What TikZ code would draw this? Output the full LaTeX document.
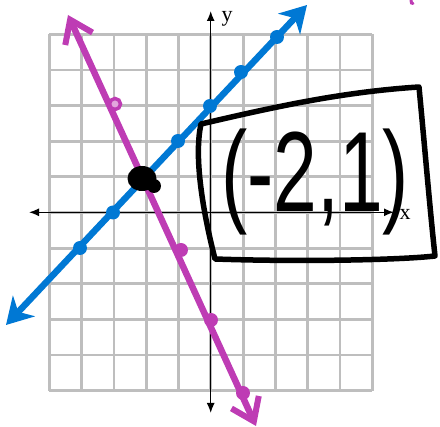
\documentclass[tikz,border=0pt]{standalone}
\usepackage{fontspec}
\usepackage{graphicx}
\setmainfont{Liberation Serif}
\newfontfamily\handfont{Liberation Sans}
\usetikzlibrary{arrows.meta}
\definecolor{gridgray}{RGB}{190,190,190}
\definecolor{penblue}{RGB}{0,120,212}
\definecolor{penmag}{RGB}{190,60,180}
\begin{document}
\begin{tikzpicture}[x=1pt,y=-1pt,
  gridline/.style={gridgray, line width=2.8pt},
  axisline/.style={black, line width=1.5pt, {Latex[length=10pt,width=8pt]}-{Latex[length=10pt,width=8pt]}},
  axislabel/.style={font=\fontsize{22}{22}\selectfont, inner sep=0pt},
  blueline/.style={penblue, line width=6.5pt, {Stealth[length=26pt,width=30pt,inset=8pt]}-{Stealth[length=26pt,width=30pt,inset=8pt]}},
  magline/.style={penmag, line width=6.5pt, line cap=round, {Straight Barb[length=21pt,width=30pt,line width=6pt]}-{Straight Barb[length=21pt,width=30pt,line width=6pt]}},
  bdot/.style={circle, fill=penblue, minimum size=14pt, inner sep=0pt},
  mdot/.style={circle, fill=penmag, minimum size=14pt, inner sep=0pt},
  pen/.style={black, line width=5.5pt, line cap=round, line join=round}
]
\useasboundingbox (0,0) rectangle (440,427);
% grid
\foreach \i in {0,...,10} {
  \draw[gridline] ({49.3+32.3*\i},34.3) -- ({49.3+32.3*\i},390.7);
  \draw[gridline] (49.3,{34.3+35.64*\i}) -- (372.3,{34.3+35.64*\i});
}
% axes
\coordinate (xl) at (29,212.3);
\coordinate (xr) at (394,212.3);
\coordinate (yt) at (210.7,11);
\coordinate (yb) at (210.7,413);
\draw[axisline] (xl) -- (xr);
\draw[axisline] (yt) -- (yb);
\node[axislabel] (ylab) at (227,19) {y};
\node[axislabel] (xlab) at (405,214) {x};
% magenta line
\coordinate (mA) at (68,15);
\coordinate (mB) at (256,426);
\draw[magline] (mA) -- (mB);
\node[circle, draw=penmag, line width=3.5pt, fill=penmag!45, minimum size=11pt, inner sep=0pt] (m1) at (115,104) {};
\node[mdot] (m2) at (181,250) {};
\node[mdot] (m3) at (211,320) {};
\node[mdot] (m4) at (243,393) {};
% blue line
\coordinate (bA) at (6,325);
\coordinate (bB) at (307,5);
\draw[blueline] (bA) -- (bB);
\node[bdot] (b1) at (80,248) {};
\node[bdot] (b2) at (113,212.5) {};
\node[bdot] (b3) at (178,141) {};
\node[bdot] (b4) at (210,106) {};
\node[bdot] (b5) at (241,72) {};
\node[bdot] (b6) at (277,37) {};
% intersection blob
\fill[black] (142,178.5) ellipse [x radius=14.5pt, y radius=12.5pt];
\fill[black] (154,186) circle (7pt);
% small magenta mark
\draw[penmag, line width=3pt, line cap=round] (411,0) -- (411.5,3) -- (413,3.5);
% hand-drawn box
\draw[pen] (201,124) .. controls (270,108) and (340,92) .. (419,87)
  .. controls (425,150) and (430,210) .. (435,256)
  .. controls (400,260) and (300,262) .. (215,259)
  .. controls (205,220) and (193,160) .. (201,124) -- cycle;
\node[inner sep=0pt, font=\handfont\fontsize{114}{114}\selectfont] (pt) at (315,182) {\scalebox{0.69}[1]{(-2,1)}};
\end{tikzpicture}
\end{document}
